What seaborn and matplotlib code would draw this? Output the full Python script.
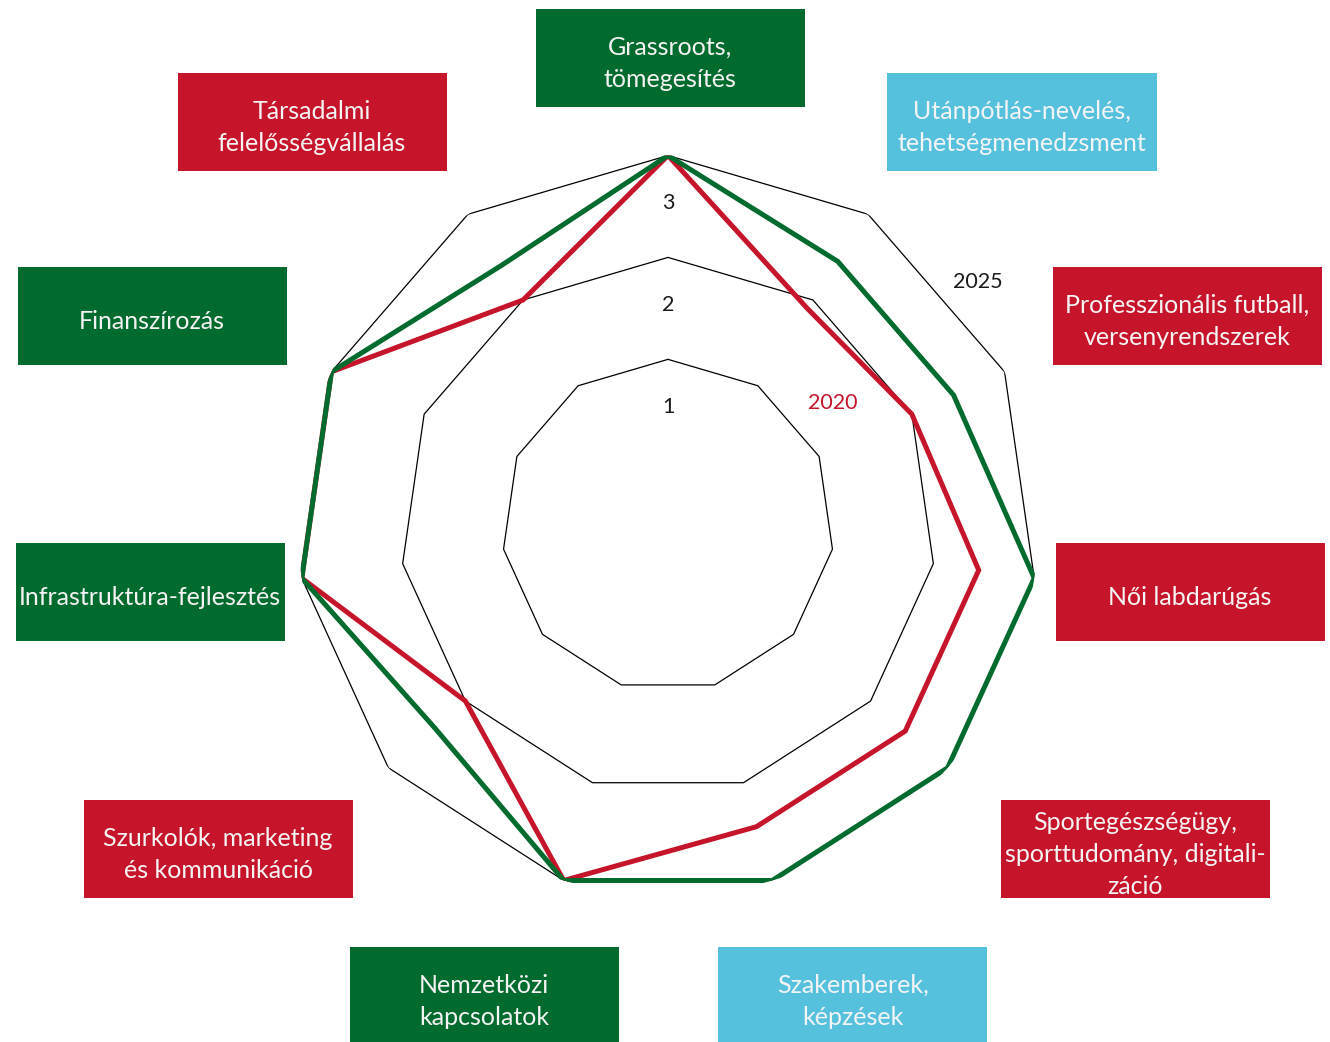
import numpy as np
import pandas as pd
import seaborn as sns
import matplotlib.pyplot as plt
from matplotlib.patches import Rectangle

# categories clockwise from the top
categories = ['Grassroots,\ntömegesítés',
              'Utánpótlás-nevelés,\ntehetségmenedzsment',
              'Professzionális futball,\nversenyrendszerek',
              'Női labdarúgás',
              'Sportegészségügy,\nsporttudomány, digitali-\nzáció',
              'Szakemberek,\nképzések',
              'Nemzetközi\nkapcsolatok',
              'Szurkolók, marketing\nés kommunikáció',
              'Infrastruktúra-fejlesztés',
              'Finanszírozás',
              'Társadalmi\nfelelősségvállalás']
box_kind = ['green', 'blue', 'red', 'red', 'red', 'blue',
            'green', 'red', 'green', 'green', 'red']
values_2020 = [3, 1.9, 2, 2.45, 2.45, 2.45, 3, 2, 3, 3, 2]
values_2025 = [3, 2.45, 2.45, 3, 3, 3, 3, 2.4, 3, 3, 2.4]
ring_levels = [1, 2, 3]

GREEN = '#006B2D'
RED = '#C6152B'
BLUE = '#56C1DD'
box_colors = {'green': GREEN, 'red': RED, 'blue': BLUE}

# label box centres in pixels (layout only)
box_centers = [(670, 58), (1022, 122), (1187, 316), (1190, 592), (1135, 849),
               (853, 996), (484, 996), (218, 849), (150, 592), (152, 316), (312, 122)]
BOX_W, BOX_H = 269, 98
TEXT_DY = 5.5
W, H = 1330, 1042

sns.set_theme(style='white')
plt.rcParams['font.family'] = ['Lato', 'DejaVu Sans']

fig = plt.figure(figsize=(W / 100, H / 100), dpi=100)

# polar axes placed so the chart centre sits at (668, 525) px, outer radius 370 px
cx, cy, R = 668, 525.5, 370
ax = fig.add_axes([(cx - R) / W, 1 - (cy + R) / H, 2 * R / W, 2 * R / H],
                  projection='polar')
ax.set_theta_zero_location('N')
ax.set_theta_direction(-1)
rmin = -0.63
ax.set_ylim(rmin, 3)

n = len(categories)
theta = np.arange(n) * 2 * np.pi / n
theta_c = np.append(theta, 2 * np.pi)

# polygon grid rings
for lvl in ring_levels:
    ax.plot(theta_c, [lvl] * (n + 1), color='black', lw=0.9, zorder=1)

df = pd.DataFrame({'theta': np.concatenate([theta_c, theta_c]),
                   'value': values_2020 + values_2020[:1] + values_2025 + values_2025[:1],
                   'year': ['2020'] * (n + 1) + ['2025'] * (n + 1)})
for year, col in [('2020', RED), ('2025', GREEN)]:
    sub = df[df['year'] == year]
    sns.lineplot(data=sub, x='theta', y='value', sort=False, ax=ax, color=col,
                 lw=3.6, solid_joinstyle='miter', zorder=3, legend=False)

ax.set_xticks([])
ax.set_yticks([])
ax.set_xlabel('')
ax.set_ylabel('')
ax.grid(False)
ax.spines['polar'].set_visible(False)
ax.patch.set_alpha(0)

for lvl in ring_levels:
    ax.text(0, lvl - 0.47, str(lvl), ha='center', va='center', fontsize=15.5,
            color='#1a1a1a')

fig.text(978 / W, 1 - 282 / H, '2025', ha='center', va='center', fontsize=15.5,
         color='#1a1a1a')
fig.text(833 / W, 1 - 403 / H, '2020', ha='center', va='center', fontsize=15.5,
         color=RED)

# category boxes
for label, kind, (bx, by) in zip(categories, box_kind, box_centers):
    fig.patches.append(Rectangle(((bx - BOX_W / 2) / W, 1 - (by + BOX_H / 2) / H),
                                 BOX_W / W, BOX_H / H, transform=fig.transFigure,
                                 facecolor=box_colors[kind], edgecolor='none', zorder=0))
    fig.text(bx / W, 1 - (by + TEXT_DY) / H, label, ha='center', va='center',
             fontsize=18, color='#F4F4F4', linespacing=1.5)

fig.savefig('out.png', dpi=100)
